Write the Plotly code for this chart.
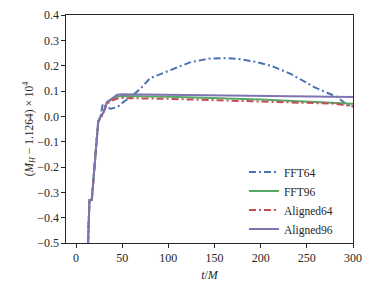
import plotly.graph_objects as go

# ---- data ----
t_fft64 = [13, 14.5, 17, 19, 22.5, 24, 26, 29, 33, 38, 45, 51, 59, 70, 80, 100, 113, 124, 145, 160, 175, 195, 211, 233, 258, 283, 292, 300]
v_fft64 = [-0.5, -0.33, -0.33, -0.25, -0.09, -0.02, -0.01, 0.05, 0.035, 0.03, 0.037, 0.056, 0.076, 0.11, 0.15, 0.18, 0.2, 0.214, 0.228, 0.23, 0.227, 0.215, 0.2, 0.167, 0.115, 0.076, 0.05, 0.036]

t_fft96 = [13, 14.5, 17, 19, 22.5, 24, 26, 29.5, 33.5, 39, 44.5, 50, 100, 200, 300]
v_fft96 = [-0.5, -0.33, -0.33, -0.25, -0.09, -0.02, -0.005, 0.015, 0.056, 0.068, 0.078, 0.08, 0.077, 0.066, 0.05]

t_al64 = [13, 14.5, 17, 19, 22.5, 24, 26, 29.5, 33.5, 39, 44.5, 50, 100, 200, 280, 300]
v_al64 = [-0.5, -0.33, -0.33, -0.25, -0.09, -0.02, -0.01, 0.01, 0.05, 0.062, 0.07, 0.072, 0.069, 0.06, 0.05, 0.04]

t_al96 = [13, 14.5, 17, 19, 22.5, 24, 26, 29.5, 33.5, 39, 44.5, 50, 100, 200, 300]
v_al96 = [-0.5, -0.33, -0.33, -0.25, -0.09, -0.02, -0.005, 0.015, 0.056, 0.07, 0.085, 0.087, 0.085, 0.08, 0.076]

names = ["FFT64", "FFT96", "Aligned64", "Aligned96"]
x_ticks = [0, 50, 100, 150, 200, 250, 300]
y_ticks = [-0.5, -0.4, -0.3, -0.2, -0.1, 0.0, 0.1, 0.2, 0.3, 0.4]

colors = ["#4C72B0", "#55A868", "#C44E52", "#8172B2"]
dd = "7px,3px,2px,3px"
dashes = [dd, "solid", dd, "solid"]

fig = go.Figure()
for t, v, n, c, d in zip([t_fft64, t_fft96, t_al64, t_al96],
                         [v_fft64, v_fft96, v_al64, v_al96],
                         names, colors, dashes):
    fig.add_trace(go.Scatter(x=t, y=v, mode="lines", name=n,
                             line=dict(color=c, width=2, dash=d)))

font = "Liberation Serif, DejaVu Serif, serif"
axis_common = dict(showline=True, linecolor="#262626", linewidth=1.2, mirror=True,
                   ticks="outside", ticklen=3.5, tickwidth=1, tickcolor="#262626",
                   showgrid=False, zeroline=False, automargin=False,
                   tickfont=dict(family=font, size=12, color="#262626"))

# page body has an 8px default margin, so the figure is 8px smaller
fig.update_layout(
    width=365, height=285,
    margin=dict(l=58, r=20, t=7, b=50),
    paper_bgcolor="white", plot_bgcolor="white",
    font=dict(family=font, color="#262626"),
    xaxis=dict(range=[-10.9, 300], tickvals=x_ticks,
               title=dict(text="<i>t</i>/<i>M</i>", font=dict(family=font, size=12), standoff=6),
               **axis_common),
    yaxis=dict(range=[-0.5, 0.4], tickvals=y_ticks, tickformat=".1f",
               title=dict(text="(<i>M</i><sub><i>H</i></sub> − 1.1264) × 10<sup>4</sup>",
                          font=dict(family=font, size=11.5), standoff=1),
               **axis_common),
    legend=dict(x=0.62, y=0.186, xanchor="left", yanchor="middle",
                bgcolor="rgba(0,0,0,0)", font=dict(family=font, size=11.5),
                tracegroupgap=0, itemwidth=30),
)

fig.write_html("out.html")
